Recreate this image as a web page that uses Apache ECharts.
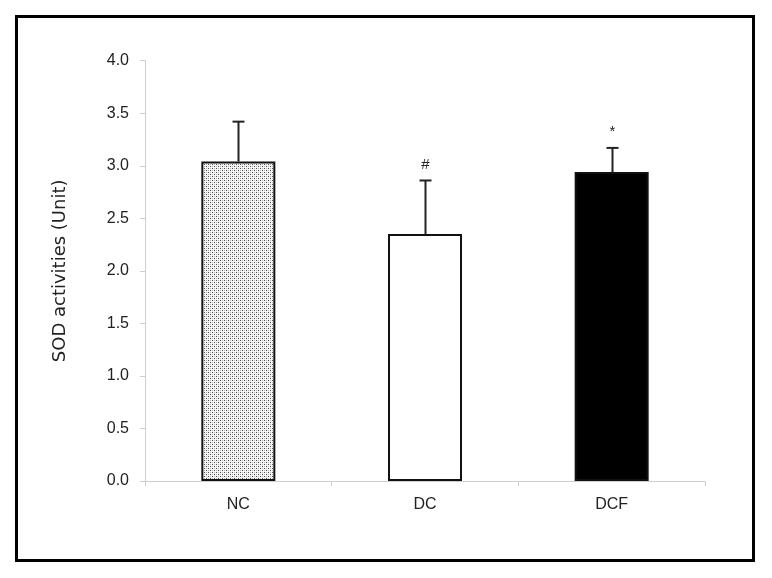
<!DOCTYPE html>
<html>
<head>
<meta charset="utf-8">
<script src="https://cdn.jsdelivr.net/npm/echarts@6/dist/echarts.min.js"></script>
<style>
  html, body { margin: 0; padding: 0; background: #fff; }
  #chart { width: 772px; height: 578px; }
</style>
</head>
<body>
<div id="chart"></div>
<script>
  // data
  const categories = ['NC', 'DC', 'DCF']
  const means = [3.04, 2.35, 2.94]
  const errTops = [3.42, 2.86, 3.17]
  const marks = ['', '#', '*']

  // dotted fill for the NC bar
  function dotPattern () {
    const c = document.createElement('canvas')
    c.width = 4
    c.height = 4
    const ctx = c.getContext('2d')
    ctx.fillStyle = '#f4f4f4'
    ctx.fillRect(0, 0, 4, 4)
    ctx.fillStyle = '#555'
    ctx.fillRect(0, 0, 1, 1)
    ctx.fillRect(2, 2, 1, 1)
    ctx.fillStyle = '#b4b4b4'
    ctx.fillRect(2, 0, 1, 1)
    ctx.fillRect(0, 2, 1, 1)
    return c
  }

  const fills = [
    { image: dotPattern(), repeat: 'repeat' },
    '#ffffff',
    '#000000'
  ]

  const chart = echarts.init(document.getElementById('chart'))
  const font = 'Liberation Sans'

  const option = {
    animation: false,
    backgroundColor: '#fff',
    grid: { left: 145, right: 67, top: 60.7, bottom: 97 },
    graphic: [{
      type: 'rect',
      shape: { x: 16.5, y: 16.5, width: 737, height: 544 },
      style: { fill: 'none', stroke: '#000', lineWidth: 3 },
      z: 100
    }],
    xAxis: {
      type: 'category',
      data: categories,
      axisLine: { lineStyle: { color: '#cfcfcf', width: 1 } },
      axisTick: { show: true, length: 5, lineStyle: { color: '#cfcfcf' } },
      axisLabel: { color: '#222', fontFamily: font, fontSize: 16, margin: 16 }
    },
    yAxis: {
      type: 'value',
      min: 0,
      max: 4,
      interval: 0.5,
      name: 'SOD activities (Unit)',
      nameLocation: 'middle',
      nameGap: 76,
      nameTextStyle: { color: '#222', fontFamily: 'DejaVu Sans', fontSize: 18 },
      splitLine: { show: false },
      axisLine: { show: true, lineStyle: { color: '#cfcfcf', width: 1 } },
      axisTick: { show: true, length: 5, lineStyle: { color: '#cfcfcf' } },
      axisLabel: {
        color: '#222', fontFamily: font, fontSize: 16, margin: 16,
        formatter: v => v.toFixed(1)
      }
    },
    series: [
      {
        type: 'bar',
        barWidth: 74,
        data: means.map((v, i) => ({
          value: v,
          itemStyle: { color: fills[i], borderColor: '#111', borderWidth: 2 }
        })),
        z: 2
      },
      {
        type: 'custom',
        z: 3,
        data: means.map((v, i) => [i, v, errTops[i]]),
        renderItem: function (params, api) {
          const i = api.value(0)
          const base = api.coord([i, api.value(1)])
          const top = api.coord([i, api.value(2)])
          const x = Math.round(base[0]) + 0.5
          const children = [
            {
              type: 'line',
              shape: { x1: x, y1: base[1], x2: x, y2: top[1] },
              style: { stroke: '#222', lineWidth: 2 }
            },
            {
              type: 'line',
              shape: { x1: x - 6, y1: top[1], x2: x + 6, y2: top[1] },
              style: { stroke: '#222', lineWidth: 2 }
            }
          ]
          if (marks[i]) {
            children.push({
              type: 'text',
              style: {
                text: marks[i], x: x, y: top[1] - 16,
                fill: '#222', font: '15px ' + font,
                align: 'center', verticalAlign: 'middle'
              }
            })
          }
          return { type: 'group', children: children }
        }
      }
    ]
  }

  chart.setOption(option)
</script>
</body>
</html>
